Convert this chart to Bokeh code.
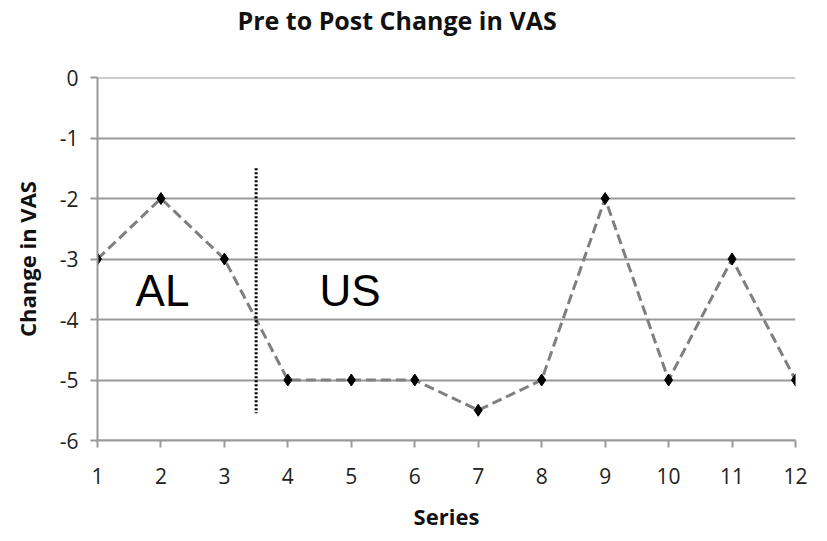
from bokeh.plotting import figure
from bokeh.models import ColumnDataSource, Range1d, FixedTicker, Title, CustomJSTickFormatter
from bokeh.core.properties import value
from bokeh.embed import file_html
from bokeh.resources import INLINE

series = [1, 2, 3, 4, 5, 6, 7, 8, 9, 10, 11, 12]
change_vas = [-3, -2, -3, -5, -5, -5, -5.5, -5, -2, -5, -3, -5]
y_ticks = [0, -1, -2, -3, -4, -5, -6]
divider_x = 3.5
divider_y = [-1.5, -5.55]
group_labels = ["AL", "US"]
group_x = [1.6, 4.5]
group_y = [-3.52, -3.52]
title_text = "Pre to Post Change in VAS"

p = figure(width=827, height=541, output_backend="svg", toolbar_location=None,
           x_range=Range1d(1, 12), y_range=Range1d(-6, 0),
           min_border_left=97, min_border_right=32, min_border_top=69, min_border_bottom=101)
p.outline_line_color = None
p.background_fill_color = "white"
p.border_fill_color = "white"

# two-line title (second line blank) lifts the title text away from the frame
p.title = Title(text=title_text + "\n ", align="left", text_font="Open Sans",
                text_font_size="25px", text_font_style="bold", text_color="#111111",
                offset=140, standoff=0, text_line_height=1.2)

p.xgrid.grid_line_color = None
p.ygrid.grid_line_color = None
p.hspan(y=y_ticks, line_color="#999999", line_width=2)

p.xaxis.ticker = FixedTicker(ticks=series)
p.yaxis.ticker = FixedTicker(ticks=y_ticks)
p.yaxis.formatter = CustomJSTickFormatter(code="return tick.toString();")
for ax in (p.xaxis, p.yaxis):
    ax.axis_line_color = "#999999"
    ax.axis_line_width = 2
    ax.major_tick_line_color = "#999999"
    ax.major_tick_line_width = 2
    ax.minor_tick_line_color = None
    ax.major_tick_in = 0
    ax.major_tick_out = 7
    ax.major_label_text_font = "Open Sans"
    ax.major_label_text_font_size = "21px"
    ax.major_label_text_color = "#222222"
    ax.axis_label_text_font = "Open Sans"
    ax.axis_label_text_font_size = "22px"
    ax.axis_label_text_font_style = "bold"
    ax.axis_label_text_color = "#111111"
p.xaxis.major_label_standoff = 20
p.yaxis.major_label_standoff = 12
p.xaxis.axis_label = "Series"
p.yaxis.axis_label = "Change in VAS"
p.xaxis.axis_label_standoff = 14
p.yaxis.axis_label_standoff = 15

src = ColumnDataSource(dict(x=series, y=change_vas))
p.line("x", "y", source=src, line_color="#7f7f7f", line_width=3, line_dash="10 5")
p.scatter("x", "y", source=src, marker="diamond", size=12, fill_color="black", line_color="black")

p.segment(x0=[divider_x], y0=[divider_y[0]], x1=[divider_x], y1=[divider_y[1]],
          line_color="black", line_width=3, line_dash="2 2")

gsrc = ColumnDataSource(dict(x=group_x, y=group_y, t=group_labels))
p.text("x", "y", text="t", source=gsrc, text_font=value("Liberation Sans"), text_font_size="44px",
       text_baseline="middle", text_align="left", text_color="black")

open("out.html", "w").write(file_html(p, INLINE))
